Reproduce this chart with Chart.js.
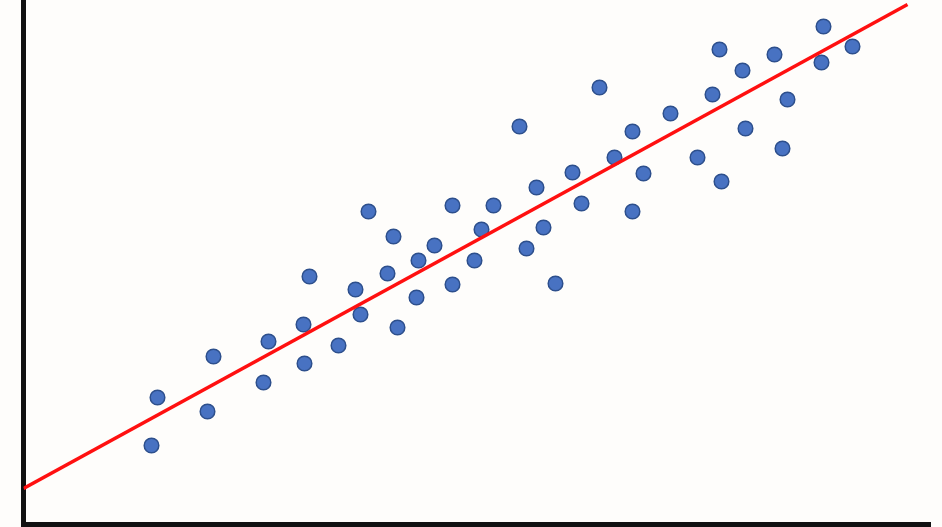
<!DOCTYPE html>
<html>
<head>
<meta charset="utf-8">
<title>Scatter with trend line</title>
<script src="https://cdn.jsdelivr.net/npm/chart.js@4.4.1/dist/chart.umd.min.js"></script>
<style>
    html, body { margin: 0; padding: 0; background: #fefdfb; }
    #chart { display: block; }
</style>
</head>
<body>
<canvas id="chart" width="942" height="527"></canvas>
<script>
    // scatter values
    const xValues = [12.8, 13.4, 18.4, 19.0, 24.0, 24.5, 28.1, 28.0, 28.6, 31.5,
                     33.2, 33.7, 34.5, 36.4, 37.0, 37.4, 39.3, 39.5, 41.1, 42.9,
                     42.9, 45.1, 45.8, 47.0, 49.6, 50.3, 51.3, 52.0, 53.2, 54.9,
                     55.8, 57.6, 59.1, 60.9, 60.9, 62.0, 64.7, 67.4, 68.9, 69.6,
                     69.8, 71.9, 72.2, 75.1, 75.9, 76.4, 79.8, 80.0, 82.9];
    const yValues = [7.9, 12.7, 11.3, 16.8, 14.2, 18.3, 16.1, 20.0, 24.8, 17.9,
                     23.5, 21.0, 31.3, 25.1, 28.8, 19.7, 22.7, 26.4, 27.9, 24.0,
                     31.9, 26.4, 29.5, 31.9, 39.8, 27.6, 33.7, 29.7, 24.1, 35.2,
                     32.1, 43.7, 36.7, 39.3, 31.3, 35.1, 41.1, 36.7, 43.0, 47.5,
                     34.3, 45.4, 39.6, 47.0, 37.6, 42.5, 46.2, 49.8, 47.8];

    // trend line end points
    const lineX = [0, 88.4];
    const lineY = [3.6, 52.0];

    const xMax = 90.65;
    const yMax = 52.45;

    const points = xValues.map(function (x, i) { return { x: x, y: yValues[i] }; });
    const trend = lineX.map(function (x, i) { return { x: x, y: lineY[i] }; });

    const axisStyle = {
        type: 'linear',
        min: 0,
        ticks: { display: false },
        grid: { display: false, drawTicks: false },
        border: { display: true, color: '#111111', width: 5 }
    };

    new Chart(document.getElementById('chart'), {
        type: 'scatter',
        data: {
            datasets: [
                {
                    type: 'line',
                    data: trend,
                    borderColor: '#ff1010',
                    borderWidth: 3.5,
                    pointRadius: 0,
                    fill: false,
                    order: 0
                },
                {
                    data: points,
                    backgroundColor: '#4872c2',
                    borderColor: '#2d4f8c',
                    borderWidth: 1.5,
                    pointRadius: 7.3,
                    order: 1
                }
            ]
        },
        options: {
            responsive: false,
            animation: false,
            devicePixelRatio: 1,
            layout: {
                autoPadding: false,
                padding: { left: 23.5, right: 12, top: 0, bottom: 2.5 }
            },
            plugins: {
                legend: { display: false },
                tooltip: { enabled: false }
            },
            scales: {
                x: Object.assign({}, axisStyle, { max: xMax, position: 'bottom' }),
                y: Object.assign({}, axisStyle, { max: yMax, position: 'left' })
            }
        }
    });
</script>
</body>
</html>
